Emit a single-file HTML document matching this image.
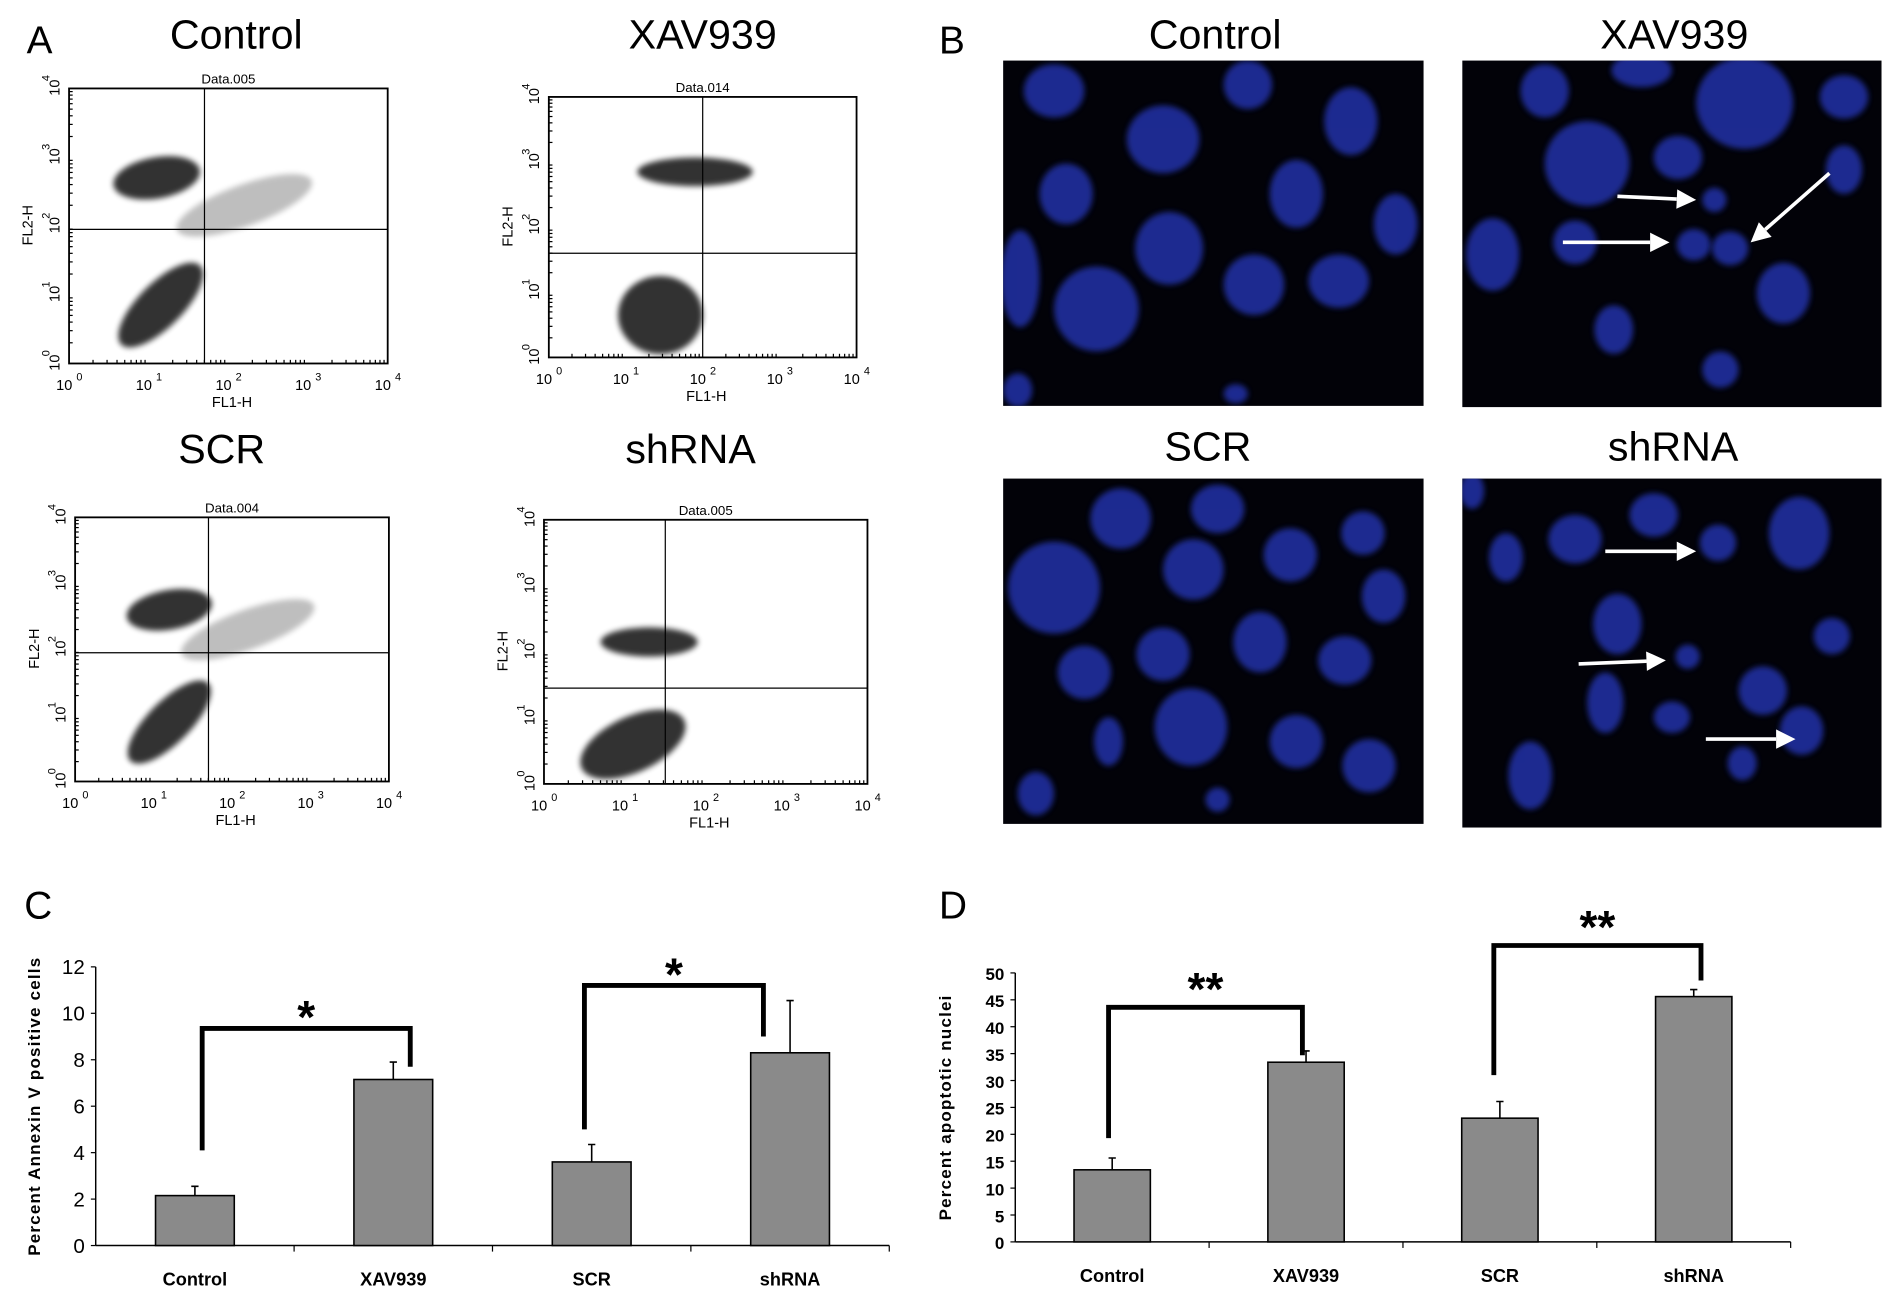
<!DOCTYPE html>
<html><head><meta charset="utf-8"><style>
html,body{margin:0;padding:0;background:#fff;width:1890px;height:1294px;overflow:hidden}
svg{display:block}
text{font-family:"Liberation Sans",sans-serif}
.cond{font-family:"Liberation Sans Narrow","Liberation Sans",sans-serif}
</style></head><body>
<svg id="fig" width="1890" height="1294" viewBox="0 0 1560 1068" preserveAspectRatio="none" xmlns="http://www.w3.org/2000/svg">
<defs>
<filter id="blur" x="-50%" y="-50%" width="200%" height="200%"><feGaussianBlur stdDeviation="2.5"/></filter>
</defs>
<g font-size="34">
<text x="22" y="44" font-size="32">A</text>
<text x="775" y="44" font-size="32">B</text>
<text x="20" y="758" font-size="32">C</text>
<text x="775" y="758" font-size="32">D</text>
<text x="195" y="40" text-anchor="middle">Control</text>
<text x="580" y="40" text-anchor="middle">XAV939</text>
<text x="183" y="382" text-anchor="middle">SCR</text>
<text x="570" y="382" text-anchor="middle">shRNA</text>
<text x="1003" y="40" text-anchor="middle">Control</text>
<text x="1382" y="40" text-anchor="middle">XAV939</text>
<text x="997" y="380" text-anchor="middle">SCR</text>
<text x="1381" y="380" text-anchor="middle">shRNA</text>
</g>
<g id="flow"></g>
<g id="micro"></g>
<g id="chartC"></g>
<g id="chartD"></g>
</svg>
<script>
const NS="http://www.w3.org/2000/svg";
function mk(p,tag,at,txt){const e=document.createElementNS(NS,tag);for(const k in at)e.setAttribute(k,at[k]);if(txt!==undefined)e.textContent=txt;p.appendChild(e);return e;}

const flowNames=["flow-control","flow-xav939","flow-scr","flow-shrna"];
const flowTitles=["Data.005","Data.014","Data.004","Data.005"];
const flowBoxes=[[57,73,320,300],[453,80,707,295],[62,427,321,645],[449,429,716,647]];
const flowQuadX=[1.7,2.0,1.7,1.5];
const flowQuadY=[1.95,1.6,1.95,1.45];
const flowClusters=[
 [[1.15,0.85,0.7,0.32,-45],[1.1,2.7,0.55,0.3,-10],[2.2,2.3,0.9,0.3,-20]],
 [[1.45,0.65,0.55,0.6,0],[1.9,2.85,0.75,0.22,0]],
 [[1.2,0.9,0.7,0.32,-45],[1.2,2.6,0.55,0.3,-10],[2.2,2.3,0.9,0.3,-20]],
 [[1.1,0.6,0.7,0.42,-25],[1.3,2.15,0.6,0.22,0]]];
const flowG=document.getElementById('flow');
flowBoxes.forEach((b,i)=>{
 const g=mk(flowG,'g',{});
 
 
 const [x0,y0,x1,y1]=b;
 const sx=v=>x0+(x1-x0)*v/4, sy=v=>y1-(y1-y0)*v/4;
 flowClusters[i].forEach((c,k)=>{
  const el=mk(g,'ellipse',{cx:sx(c[0]),cy:sy(c[1]),rx:(x1-x0)*c[2]/4,ry:(y1-y0)*c[3]/4,fill:'#000',opacity:k>1?0.25:0.8,filter:'url(#blur)',transform:`rotate(${c[4]} ${sx(c[0])} ${sy(c[1])})`});
  
  
 });
 mk(g,'rect',{x:x0,y:y0,width:x1-x0,height:y1-y0,fill:'none',stroke:'#000','stroke-width':1.5});
 mk(g,'line',{x1:sx(flowQuadX[i]),x2:sx(flowQuadX[i]),y1:y0,y2:y1,stroke:'#000','stroke-width':1});
 mk(g,'line',{x1:x0,x2:x1,y1:sy(flowQuadY[i]),y2:sy(flowQuadY[i]),stroke:'#000','stroke-width':1});
 mk(g,'text',{x:(x0+x1)/2,y:y0-4,'text-anchor':'middle','font-size':11},flowTitles[i]);
 for(let k=0;k<=4;k++){
  mk(g,'text',{x:sx(k)-4,y:y1+22,'font-size':12,'text-anchor':'middle'},'10');
  mk(g,'text',{x:sx(k)+6,y:y1+14,'font-size':9},String(k));
  mk(g,'text',{transform:`translate(${x0-8},${sy(k)+6}) rotate(-90)`,'font-size':12},'10');
  mk(g,'text',{transform:`translate(${x0-16},${sy(k)-6}) rotate(-90)`,'font-size':9},String(k));
  for(let m=2;m<10&&k<4;m++){const lv=k+Math.log10(m);
   mk(g,'line',{x1:sx(lv),x2:sx(lv),y1:y1,y2:y1-3,stroke:'#000'});
   mk(g,'line',{x1:x0,x2:x0+3,y1:sy(lv),y2:sy(lv),stroke:'#000'});}
 }
 mk(g,'text',{x:(x0+x1)/2+3,y:y1+36,'font-size':12,'text-anchor':'middle'},'FL1-H');
 mk(g,'text',{transform:`translate(${x0-30},${(y0+y1)/2+16}) rotate(-90)`,'font-size':12},'FL2-H');
});

const microNames=["micro-control","micro-xav939","micro-scr","micro-shrna"];
const microBoxes=[[828,50,1175,335],[1207,50,1553,336],[828,395,1175,680],[1207,395,1553,683]];
const nuclei=[
 [[870,75,25,22],[960,115,30,28],[1030,70,20,20],[1115,100,22,28],[880,160,22,25],[1070,160,22,28],[965,205,28,30],[1035,235,25,25],[1105,232,25,22],[1152,185,18,25],[842,230,16,40],[905,255,35,35],[840,322,12,14],[1020,325,10,8]],
 [[1275,75,20,22],[1355,58,25,14],[1440,85,40,38],[1522,80,20,18],[1310,135,35,35],[1385,130,20,18],[1232,210,22,30],[1300,200,18,18],[1398,202,14,13],[1428,205,15,14],[1472,242,22,25],[1522,140,15,20],[1420,305,15,15],[1332,272,16,20],[1415,165,10,10]],
 [[870,485,38,38],[925,428,25,25],[1005,420,22,20],[1065,458,22,22],[1125,440,18,18],[985,470,25,25],[960,540,22,22],[895,555,22,22],[1040,530,22,25],[1110,545,22,20],[1142,492,18,22],[983,600,30,32],[1070,612,22,22],[1130,632,22,22],[855,655,15,18],[915,612,12,20],[1005,660,10,10]],
 [[1300,445,22,20],[1365,425,20,18],[1418,448,15,15],[1485,440,25,30],[1243,460,14,20],[1335,515,20,25],[1393,542,10,10],[1380,592,15,13],[1325,580,15,25],[1455,570,20,20],[1512,525,15,15],[1487,603,18,20],[1263,640,18,28],[1438,630,12,14],[1215,405,10,15]]];
const arrows=[[],[[1335,162,1400,165],[1290,200,1378,200],[1510,143,1445,200]],[],[[1325,455,1400,455],[1303,548,1375,545],[1408,610,1482,610]]];
const microG=document.getElementById('micro');
microBoxes.forEach((b,i)=>{
 const g=mk(microG,'g',{});
 
 
 const cp='cp'+i;
 const c=mk(g,'clipPath',{id:cp});mk(c,'rect',{x:b[0],y:b[1],width:b[2]-b[0],height:b[3]-b[1]});
 mk(g,'rect',{x:b[0],y:b[1],width:b[2]-b[0],height:b[3]-b[1],fill:'#020208'});
 const gg=mk(g,'g',{'clip-path':`url(#${cp})`});
 nuclei[i].forEach(n=>{
  const e=mk(gg,'ellipse',{cx:n[0],cy:n[1],rx:n[2],ry:n[3],fill:'#2232a8',opacity:0.85,filter:'url(#blur)'});
  
  
 });
 arrows[i].forEach(a=>{
  const [x1,y1,x2,y2]=a;const ang=Math.atan2(y2-y1,x2-x1);
  const L=16,W=8;const bx=x2-L*Math.cos(ang),by=y2-L*Math.sin(ang);
  const ar=mk(gg,'g',{});
  
  
  mk(ar,'line',{x1:x1,y1:y1,x2:bx,y2:by,stroke:'#fff','stroke-width':3});
  mk(ar,'polygon',{points:`${x2},${y2} ${bx+W*Math.sin(ang)},${by-W*Math.cos(ang)} ${bx-W*Math.sin(ang)},${by+W*Math.cos(ang)}`,fill:'#fff'});
 });
});
</script>
<script>
const catsC=["Control","XAV939","SCR","shRNA"];
const valsC=[2.15,7.15,3.6,8.3];
const errC=[0.4,0.75,0.75,2.25];
const ticksC=[0,2,4,6,8,10,12];
const bracketsC=[[0,1,9.35,4.1,7.7],[2,3,11.2,5.0,9.0]];
const starsC=["*","*"];
const catsD=["Control","XAV939","SCR","shRNA"];
const valsD=[13.4,33.4,23,45.6];
const errD=[2.2,2.1,3.1,1.3];
const ticksD=[0,5,10,15,20,25,30,35,40,45,50];
const bracketsD=[[0,1,43.6,19.3,34.7],[2,3,55.1,31,48.6]];
const starsD=["**","**"];

function drawChart(gid,o){
 const g=document.getElementById(gid);
 
 
 const y=v=>o.y0-(o.y0-o.yTop)*v/o.max;
 const slotW=(o.xEnd-o.x0)/o.cats.length;
 const cx=i=>o.x0+slotW*(i+0.5);
 mk(g,'line',{x1:o.x0,x2:o.x0,y1:o.yTop,y2:o.y0,stroke:'#000','stroke-width':1.2});
 mk(g,'line',{x1:o.x0,x2:o.xEnd,y1:o.y0,y2:o.y0,stroke:'#000','stroke-width':1.2});
 o.ticks.forEach(t=>{
  mk(g,'line',{x1:o.x0-4,x2:o.x0,y1:y(t),y2:y(t),stroke:'#000'});
  const tl=mk(g,'text',{x:o.x0-9,y:y(t)+6,'text-anchor':'end','font-size':o.tickSize,'font-weight':o.bold?'bold':'normal',class:'cond'},String(t));
  
  
 });
 for(let i=1;i<=o.cats.length;i++)mk(g,'line',{x1:o.x0+slotW*i,x2:o.x0+slotW*i,y1:o.y0,y2:o.y0+5,stroke:'#000'});
 o.cats.forEach((c,i)=>{
  const r=mk(g,'rect',{x:cx(i)-o.barW/2,y:y(o.vals[i]),width:o.barW,height:o.y0-y(o.vals[i]),fill:'#8a8a8a',stroke:'#000','stroke-width':1.3});
  
  
  const e=mk(g,'path',{d:`M${cx(i)} ${y(o.vals[i])}V${y(o.vals[i]+o.err[i])}M${cx(i)-3} ${y(o.vals[i]+o.err[i])}H${cx(i)+3}`,stroke:'#000','stroke-width':1.3,fill:'none'});
  
  
  const l=mk(g,'text',{x:cx(i),y:o.y0+33,'text-anchor':'middle','font-size':15,'font-weight':'bold',class:'cond'},c);
  
  
 });
 o.brackets.forEach((b,k)=>{
  const xa=cx(b[0])+o.offA[k],xb=cx(b[1])+o.offB[k];
  const p=mk(g,'path',{d:`M${xa} ${y(b[3])}V${y(b[2])}H${xb}V${y(b[4])}`,stroke:'#000','stroke-width':4,fill:'none'});
  
  
  const s=mk(g,'text',{x:(xa+xb)/2,y:y(b[2])+o.starDy,'text-anchor':'middle','font-size':38,'font-weight':'bold'},o.stars[k]);
  
  
 });
 const t=mk(g,'text',{transform:`translate(${o.titleX},${(o.yTop+o.y0)/2}) rotate(-90)`,'text-anchor':'middle','font-size':14,'font-weight':'bold','letter-spacing':'1'},o.title);
 
 
}
drawChart('chartC',{name:'chart-c-annexin',cats:catsC,vals:valsC,err:errC,ticks:ticksC,brackets:bracketsC,stars:starsC,max:12,x0:79,xEnd:734,y0:1028,yTop:798,barW:65,tickSize:17,bold:false,offA:[6,-6],offB:[14,-22],starDy:4,titleX:33,title:'Percent Annexin V  positive  cells'});
drawChart('chartD',{name:'chart-d-apoptotic',cats:catsD,vals:valsD,err:errD,ticks:ticksD,brackets:bracketsD,stars:starsD,max:50,x0:838,xEnd:1478,y0:1025,yTop:803,barW:63,tickSize:14,bold:true,offA:[-3,-5],offB:[-3,6],starDy:-2,titleX:785,title:'Percent  apoptotic  nuclei'});
</script>
</body></html>
